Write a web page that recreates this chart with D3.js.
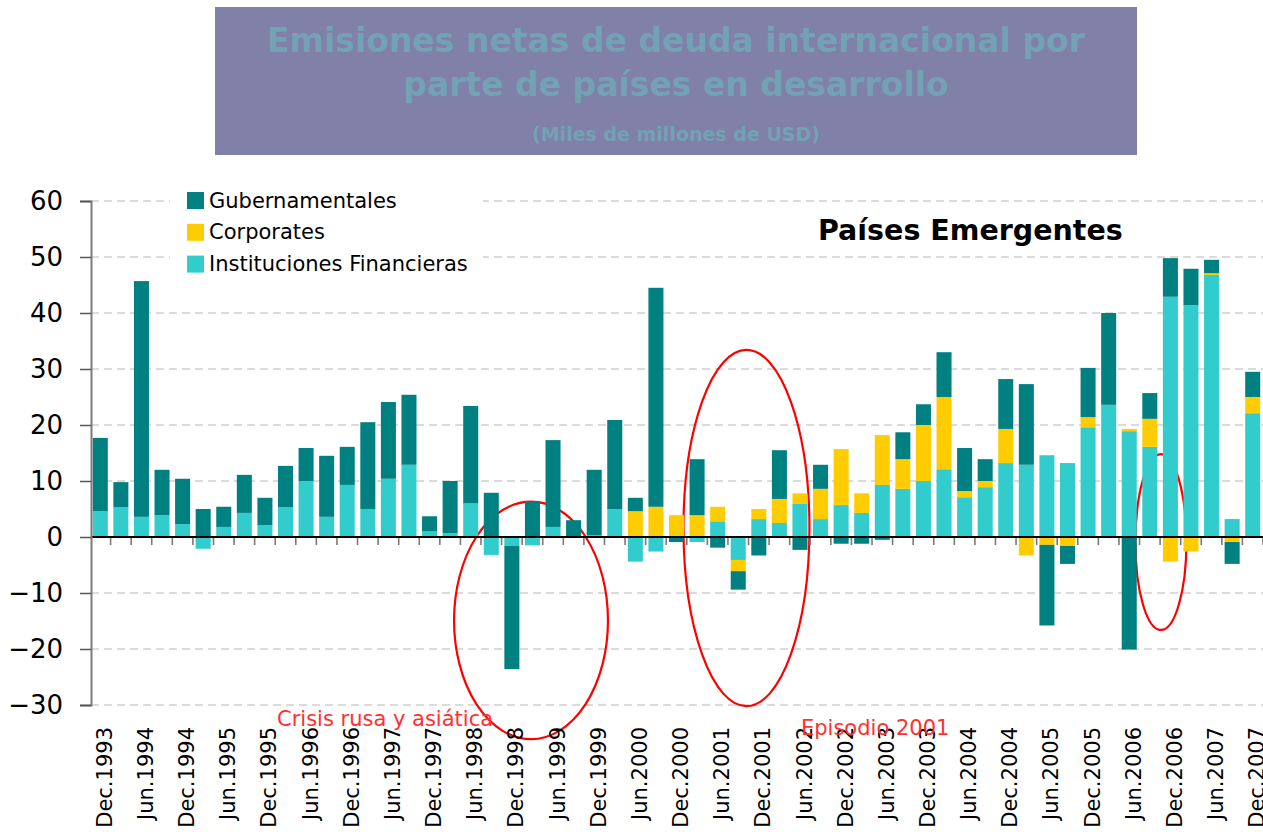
<!DOCTYPE html>
<html>
<head>
<meta charset="utf-8">
<script src="https://cdn.jsdelivr.net/npm/d3@7"></script>
<style>
body { margin: 0; background: #fff; }
svg { display: block; font-family: "DejaVu Sans", Verdana, sans-serif; }
</style>
</head>
<body>
<div id="chart"></div>
<script>
// quarters, Dec.1993 .. Dec.2007
var quarters = ["Dec.1993","Mar.1994","Jun.1994","Sep.1994","Dec.1994","Mar.1995","Jun.1995","Sep.1995",
  "Dec.1995","Mar.1996","Jun.1996","Sep.1996","Dec.1996","Mar.1997","Jun.1997","Sep.1997","Dec.1997",
  "Mar.1998","Jun.1998","Sep.1998","Dec.1998","Mar.1999","Jun.1999","Sep.1999","Dec.1999","Mar.2000",
  "Jun.2000","Sep.2000","Dec.2000","Mar.2001","Jun.2001","Sep.2001","Dec.2001","Mar.2002","Jun.2002",
  "Sep.2002","Dec.2002","Mar.2003","Jun.2003","Sep.2003","Dec.2003","Mar.2004","Jun.2004","Sep.2004",
  "Dec.2004","Mar.2005","Jun.2005","Sep.2005","Dec.2005","Mar.2006","Jun.2006","Sep.2006","Dec.2006",
  "Mar.2007","Jun.2007","Sep.2007","Dec.2007"]

var financieras = [4.6,5.3,3.6,3.9,2.3,-2.1,1.8,4.3,2.1,5.3,10.0,3.6,9.3,5.0,10.4,12.9,1.0,0.7,6.0,-3.2,
  -1.6,-1.5,1.8,0,0.3,5.0,-4.4,-2.6,0,-0.9,2.8,-4.1,3.2,2.5,6.0,3.2,5.7,4.3,9.3,8.6,10.0,12.1,7.1,8.9,
  13.2,12.9,14.6,13.2,19.6,23.6,18.9,16.1,42.9,41.4,46.8,3.2,22.1]
var corporates = [0,0,0,0,0,0,0,0,0,0,0,0,0,0,0,0,0,0,0,0,
  0,0,0,0,0,0,4.6,5.4,3.9,3.9,2.6,-2.0,1.8,4.3,1.8,5.4,10.0,3.5,8.9,5.3,10.0,12.9,1.1,1.1,
  6.1,-3.3,-1.4,-1.6,1.8,0,0.4,5.0,-4.4,-2.6,0.3,-0.9,2.9]
var gubernamentales = [13.1,4.5,42.1,8.1,8.1,5.0,3.6,6.8,4.9,7.4,5.9,10.9,6.8,15.5,13.7,12.5,2.7,9.3,17.4,7.9,
  -22.0,6.4,15.5,3.0,11.7,15.9,2.4,39.1,-0.9,10.0,-1.9,-3.3,-3.3,8.7,-2.3,4.3,-1.2,-1.2,-0.5,4.8,3.7,8.0,7.7,3.9,
  8.9,14.4,-14.4,-3.2,8.8,16.4,-20.1,4.6,6.9,6.5,2.4,-3.9,4.5]

var yTicks = [-30,-20,-10,0,10,20,30,40,50,60]
var legendNames = ["Gubernamentales","Corporates","Instituciones Financieras"]
var legendKeys = ["gub","corp","fin"]
var colors = {gub: "#008080", corp: "#ffcc00", fin: "#33cccc"}

// annotation ellipses: centre (fractional quarter index, value), radii (quarters, value units)
var circles = [
  {i: 20.93, v: -14.9, ri: 3.74, rv: 21.2},
  {i: 31.4, v: 1.6, ri: 3.06, rv: 31.8},
  {i: 51.54, v: -0.9, ri: 1.24, rv: 15.7}
]

var W = 1263, H = 832
var svg = d3.select('#chart').append('svg').attr('width', W).attr('height', H)

var x = d3.scaleBand().domain(quarters).range([90, 1263]).paddingInner(0.27).paddingOuter(0.135)
var y = d3.scaleLinear().domain([-30, 60]).range([705, 201])
var xAt = function (fi) { return x.range()[0] + x.step() * (fi + 0.5) }

var rows = quarters.map(function (q, i) {
  return {q: q, fin: financieras[i], corp: corporates[i], gub: gubernamentales[i]}
})
var stacked = d3.stack().keys(["fin", "corp", "gub"]).offset(d3.stackOffsetDiverging)(rows)

// title box
svg.append('rect').attr('x', 215).attr('y', 7).attr('width', 922).attr('height', 148).attr('fill', '#8080a8')
var tcol = '#72a2b4'
svg.append('text').attr('x', 676).attr('y', 52).attr('text-anchor', 'middle').attr('font-weight', 'bold')
  .attr('font-size', 33).attr('fill', tcol).text('Emisiones netas de deuda internacional por')
svg.append('text').attr('x', 676).attr('y', 96).attr('text-anchor', 'middle').attr('font-weight', 'bold')
  .attr('font-size', 33).attr('fill', tcol).text('parte de países en desarrollo')
svg.append('text').attr('x', 676).attr('y', 141).attr('text-anchor', 'middle').attr('font-weight', 'bold')
  .attr('font-size', 19).attr('fill', tcol).text('(Miles de millones de USD)')

// gridlines
svg.append('g').selectAll('line').data(yTicks.filter(function (d) { return d != 0 })).join('line')
  .attr('x1', 91).attr('x2', 1263).attr('y1', function (d) { return y(d) }).attr('y2', function (d) { return y(d) })
  .attr('stroke', '#cfcfcf').attr('stroke-width', 1.5).attr('stroke-dasharray', '8,5')

// ellipses sit behind the bars
svg.append('g').selectAll('ellipse').data(circles).join('ellipse')
  .attr('cx', function (d) { return xAt(d.i) })
  .attr('cy', function (d) { return y(d.v) })
  .attr('rx', function (d) { return d.ri * x.step() })
  .attr('ry', function (d) { return y(0) - y(d.rv) })
  .attr('fill', 'none').attr('stroke', '#ff0000').attr('stroke-width', 2.2)

// bars
svg.append('g').selectAll('g').data(stacked).join('g')
  .attr('fill', function (s) { return colors[s.key] })
  .selectAll('rect').data(function (s) { return s }).join('rect')
  .attr('x', function (d) { return x(d.data.q) })
  .attr('width', x.bandwidth())
  .attr('y', function (d) { return y(Math.max(d[0], d[1])) })
  .attr('height', function (d) { return Math.abs(y(d[0]) - y(d[1])) })

// category ticks on the zero line
var bounds = quarters.map(function (q) { return x(q) + x.bandwidth() + x.step() * x.paddingInner() / 2 })
svg.append('g').selectAll('line').data(bounds).join('line')
  .attr('x1', function (d) { return d }).attr('x2', function (d) { return d })
  .attr('y1', y(0)).attr('y2', y(0) + 8)
  .attr('stroke', '#7a7a7a').attr('stroke-width', 1.6)

svg.append('line').attr('x1', 91).attr('x2', 1263).attr('y1', y(0)).attr('y2', y(0))
  .attr('stroke', '#000').attr('stroke-width', 2)

// y axis
var yAxis = svg.append('g').attr('transform', 'translate(91,0)')
  .call(d3.axisLeft(y).tickValues(yTicks).tickSize(11).tickPadding(17).tickFormat(d3.format('d')))
yAxis.select('.domain').attr('stroke', '#7a7a7a').attr('stroke-width', 2)
yAxis.selectAll('.tick line').attr('stroke', '#555').attr('stroke-width', 1.5)
yAxis.selectAll('.tick text').attr('font-size', 26).attr('font-family', '"DejaVu Sans", Verdana, sans-serif')
  .attr('fill', '#000')

// rotated category labels, every second quarter
svg.append('g').selectAll('text').data(quarters.filter(function (q, i) { return i % 2 == 0 })).join('text')
  .attr('transform', function (q) { return 'translate(' + (x(q) + x.bandwidth() / 2) + ',727) rotate(-90)' })
  .attr('text-anchor', 'end').attr('dy', '0.55em').attr('font-size', 21).attr('fill', '#000')
  .text(function (q) { return q })

// legend
svg.append('rect').attr('x', 170).attr('y', 182).attr('width', 313).attr('height', 100).attr('fill', '#fff')
var leg = svg.append('g').selectAll('g').data(legendKeys).join('g')
  .attr('transform', function (k, i) { return 'translate(187,' + (192 + i * 31.8) + ')' })
leg.append('rect').attr('width', 17).attr('height', 17).attr('fill', function (k) { return colors[k] })
leg.append('text').attr('x', 22).attr('y', 15.5).attr('font-size', 21).attr('fill', '#000')
  .text(function (k, i) { return legendNames[i] })

svg.append('text').attr('x', 818).attr('y', 240).attr('font-weight', 'bold').attr('font-size', 28.5)
  .attr('fill', '#000').text('Países Emergentes')

// annotations
svg.append('text').attr('x', 277).attr('y', 726).attr('font-size', 21).attr('fill', '#ff3030')
  .text('Crisis rusa y asiática')
svg.append('text').attr('x', 801).attr('y', 735).attr('font-size', 21).attr('fill', '#ff3030')
  .text('Episodio 2001')
</script>
</body>
</html>
